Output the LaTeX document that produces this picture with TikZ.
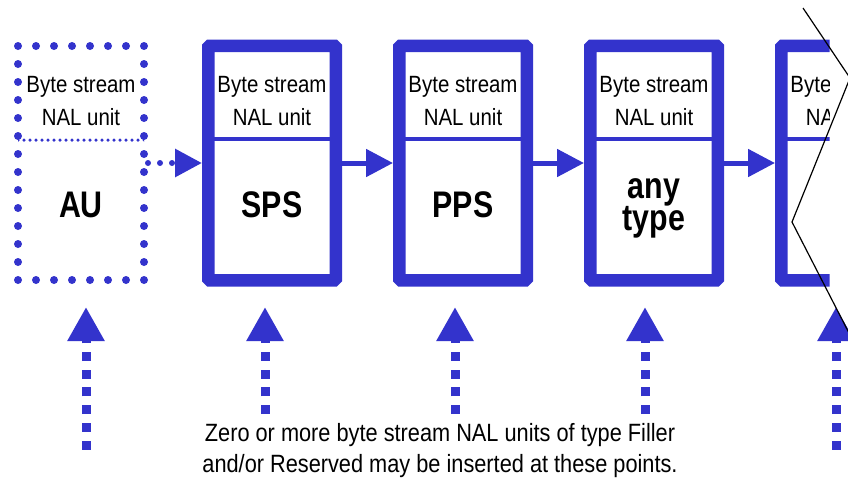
\documentclass[tikz,border=0pt]{standalone}
\usepackage{fontspec}
\setmainfont{Liberation Sans}[FakeStretch=0.87]
\newfontfamily\boldlabel{Liberation Sans}[FakeStretch=0.82]
\usetikzlibrary{arrows.meta,positioning}
\definecolor{nalblue}{RGB}{51,51,204}

\begin{document}
\begin{tikzpicture}[x=1pt,y=-1pt,node distance=191pt,on grid,
    nalbox/.style={draw=nalblue,line width=12.5pt,rounded corners=1.5pt,
      minimum width=127.5pt,minimum height=234.5pt,
      path picture={\draw[nalblue,line width=4pt]
        ([yshift=-93pt]path picture bounding box.north west) --
        ([yshift=-93pt]path picture bounding box.north east);}},
    aubox/.style={draw=nalblue,line width=8pt,line cap=round,
      dash pattern=on 0pt off 18pt,minimum width=126pt,minimum height=234pt,
      path picture={\draw[nalblue,line width=3.5pt,line cap=round,dash pattern=on 0pt off 6pt]
        ([yshift=-94pt]path picture bounding box.north west) --
        ([yshift=-94pt]path picture bounding box.north east);}},
    bytetext/.style={align=center,font=\fontsize{23.5}{33}\selectfont},
    typetext/.style={align=center,font=\boldlabel\bfseries\fontsize{37}{32}\selectfont},
    note/.style={align=center,font=\fontsize{25}{31}\selectfont},
    flow/.style={nalblue,line width=5pt,-{Triangle[length=27pt,width=27pt]}},
    auflow/.style={nalblue,line width=6pt,line cap=round,dash pattern=on 0pt off 12pt,
      -{Triangle[length=27pt,width=27pt]}},
    insert/.style={nalblue,line width=9pt,dash pattern=on 9pt off 8.7pt,
      -{Triangle[length=34pt,width=35pt]}},
    tear/.style={black,line width=1.2pt}]
   \useasboundingbox (0,0) rectangle (848,479);

   % access unit delimiter and the NAL units after it
   \node[aubox] (au) at (81,163) {};
   \node[nalbox] (sps) [right=of au] {};
   \node[nalbox] (pps) [right=of sps] {};
   \node[nalbox] (any) [right=of pps] {};
   \begin{scope}
     \clip (760,0) rectangle (829.5,335);
     \node[nalbox] (next) [right=of any] {};
     \node[bytetext] (next-top) [above=62pt of next] {Byte stream\\NAL unit};
   \end{scope}

   \node[bytetext] (au-top) [above=62pt of au] {Byte stream\\NAL unit};
   \node[bytetext] (sps-top) [above=62pt of sps] {Byte stream\\NAL unit};
   \node[bytetext] (pps-top) [above=62pt of pps] {Byte stream\\NAL unit};
   \node[bytetext] (any-top) [above=62pt of any] {Byte stream\\NAL unit};

   \node[typetext] (au-type) [below=42pt of au] {AU};
   \node[typetext] (sps-type) [below=42pt of sps] {SPS};
   \node[typetext] (pps-type) [below=42pt of pps] {PPS};
   \node[typetext] (any-type) [below=45pt of any] {any\\type};

   \draw[auflow] (au) -- (sps);
   \path[flow]
    (sps) edge (pps)
    (pps) edge (any)
    (any) edge (next);

   % insertion points
   \coordinate (au-foot) at (86,449.5);
   \coordinate (au-point) at (86,307);
   \coordinate (sps-foot) at (265,414);
   \coordinate (sps-point) at (265,307);
   \coordinate (pps-foot) at (455,414);
   \coordinate (pps-point) at (455,307);
   \coordinate (any-foot) at (645,414);
   \coordinate (any-point) at (645,307);
   \coordinate (next-foot) at (836,449.5);
   \coordinate (next-point) at (836,307);
   \foreach \n in {au,sps,pps,any,next}
     \draw[insert] (\n-foot) -- (\n-point);

   \draw[tear] (803,8) -- (850,78) -- (792,222) -- (850,335);

   \node[note] (note) at (440,450.5) {Zero or more byte stream NAL units of type Filler\\and/or Reserved may be inserted at these points.};
\end{tikzpicture}
\end{document}
